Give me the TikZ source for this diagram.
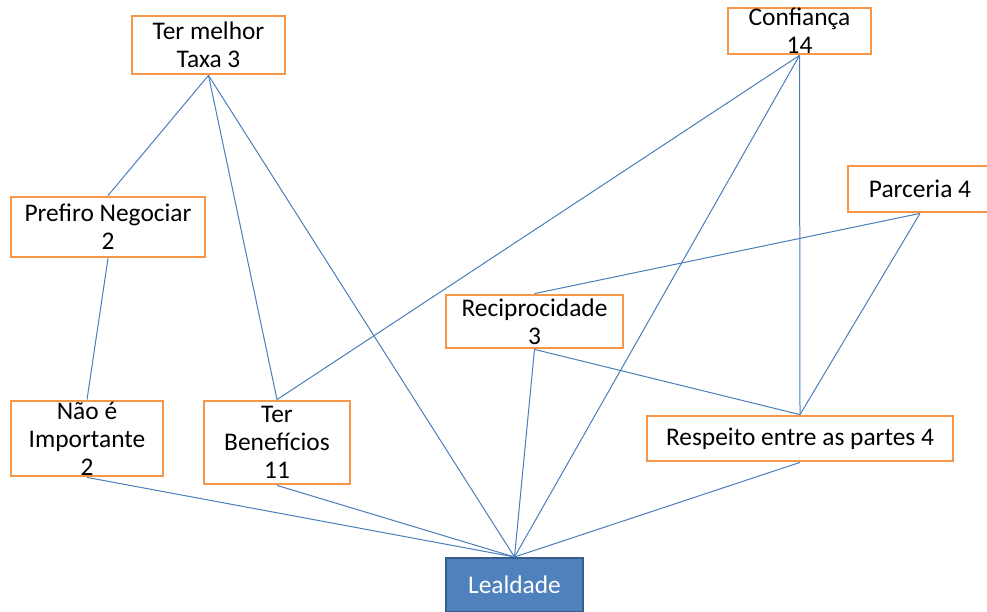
\documentclass[tikz,border=0pt]{standalone}
\usepackage{fontspec}
\setmainfont{Carlito}
\definecolor{boxorange}{HTML}{F79646}
\definecolor{lineblue}{HTML}{4A7EBB}
\definecolor{lealfill}{HTML}{4F81BD}
\definecolor{lealdraw}{HTML}{385D8A}
\tikzset{
  box/.style={draw=boxorange, line width=2.8pt, fill=white, inner sep=0pt},
  txt/.style={inner sep=0pt, align=center, font=\fontsize{25.4}{28}\selectfont},
  conn/.style={draw=lineblue, line width=1pt},
  lealbox/.style={draw=lealdraw, line width=2pt, fill=lealfill, inner sep=0pt,
    text=white, font=\fontsize{25.4}{28}\selectfont}
}
\begin{document}
\begin{tikzpicture}[x=1pt,y=-1pt]
\useasboundingbox (0,0) rectangle (987,612);
\node[box, minimum width=153pt, minimum height=58pt, label={[txt]center:Ter melhor\\Taxa 3}] (tmt) at (208.5,45) {};
\node[box, minimum width=143pt, minimum height=46pt, label={[txt]center:Confiança\\14}] (conf) at (799.5,31) {};
\node[box, minimum width=194pt, minimum height=60pt, label={[txt]center:Prefiro Negociar\\2}] (pref) at (108,227) {};
\node[box, minimum width=152pt, minimum height=75pt, label={[txt]center:Não é\\Importante\\2}] (nao) at (87,438.5) {};
\node[box, minimum width=146pt, minimum height=83pt, label={[txt]center:Ter\\Benefícios\\11}] (ben) at (277,442.5) {};
\node[box, minimum width=177pt, minimum height=53pt, label={[txt]center:Reciprocidade\\3}] (rec) at (534.5,321.5) {};
\node[box, minimum width=144pt, minimum height=46pt, label={[txt]center:Parceria 4}] (parc) at (920,189) {};
\node[box, minimum width=306pt, minimum height=45pt, label={[txt]center:Respeito entre as partes 4}] (resp) at (800,438.5) {};
\node[lealbox, minimum width=137pt, minimum height=54pt] (leal) at (514.5,585) {Lealdade};

\draw[conn] (tmt.south) -- (pref.north);
\draw[conn] (tmt.south) -- (ben.north);
\draw[conn] (tmt.south) -- (leal.north);
\draw[conn] (pref.south) -- (nao.north);
\draw[conn] (nao.south) -- (leal.north);
\draw[conn] (ben.south) -- (leal.north);
\draw[conn] (conf.south) -- (ben.north);
\draw[conn] (conf.south) -- (leal.north);
\draw[conn] (conf.south) -- (resp.north);
\draw[conn] (parc.south) -- (rec.north);
\draw[conn] (parc.south) -- (resp.north);
\draw[conn] (rec.south) -- (leal.north);
\draw[conn] (rec.south) -- (resp.north);
\draw[conn] (resp.south) -- (leal.north);
\end{tikzpicture}
\end{document}
